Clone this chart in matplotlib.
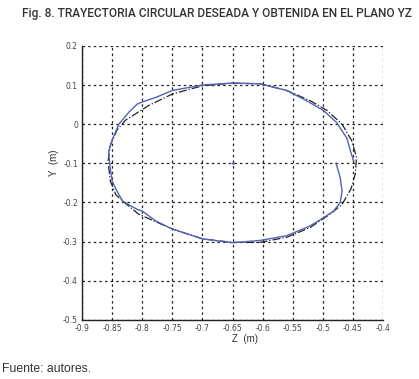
import matplotlib
matplotlib.use("Agg")
import matplotlib.pyplot as plt

# trayectoria deseada (Z, Y) en metros
z_deseada = [-0.650, -0.604, -0.560, -0.521, -0.493, -0.468, -0.452, -0.444, -0.446, -0.453,
             -0.468, -0.488, -0.521, -0.560, -0.604, -0.650, -0.700, -0.750, -0.806, -0.833,
             -0.844, -0.853, -0.857, -0.853, -0.842, -0.828, -0.789, -0.750, -0.700, -0.650]
y_deseada = [0.105, 0.103, 0.086, 0.060, 0.035, 0.000, -0.042, -0.084, -0.127, -0.165,
             -0.205, -0.230, -0.264, -0.289, -0.302, -0.302, -0.293, -0.268, -0.230, -0.196,
             -0.180, -0.146, -0.095, -0.053, -0.015, 0.010, 0.048, 0.077, 0.098, 0.105]

# trayectoria obtenida
z_obtenida = [-0.478, -0.471, -0.468, -0.471, -0.482, -0.499, -0.521, -0.560, -0.604, -0.650,
              -0.700, -0.750, -0.778, -0.800, -0.808, -0.819, -0.833, -0.842, -0.850, -0.854,
              -0.856, -0.850, -0.839, -0.822, -0.808, -0.790, -0.778, -0.750, -0.700, -0.650,
              -0.604, -0.560, -0.527, -0.499, -0.477, -0.460, -0.453, -0.449]
y_obtenida = [-0.100, -0.137, -0.171, -0.200, -0.222, -0.239, -0.260, -0.285, -0.297, -0.303,
              -0.293, -0.268, -0.247, -0.222, -0.218, -0.209, -0.196, -0.171, -0.146, -0.104,
              -0.070, -0.040, 0.000, 0.031, 0.052, 0.062, 0.068, 0.086, 0.100, 0.105,
              0.103, 0.086, 0.060, 0.035, 0.004, -0.036, -0.074, -0.093]

centro = (-0.65, -0.10)

z_ticks = [-0.9, -0.85, -0.8, -0.75, -0.7, -0.65, -0.6, -0.55, -0.5, -0.45, -0.4]
z_labels = ["-0.9", "-0.85", "-0.8", "-0.75", "-0.7", "-0.65", "-0.6", "-0.55", "-0.5", "-0.45", "-0.4"]
y_ticks = [0.2, 0.1, 0, -0.1, -0.2, -0.3, -0.4, -0.5]
y_labels = ["0.2", "0.1", "0", "-0.1", "-0.2", "-0.3", "-0.4", "-0.5"]

fig = plt.figure(figsize=(4.19, 3.79), dpi=100)
ax = fig.add_axes([0.196, 0.156, 0.718, 0.723])

ax.plot(z_deseada, y_deseada, color="#222222", lw=0.9, ls="-.")
ax.plot(z_obtenida, y_obtenida, color="#5560b8", lw=1.0)
ax.plot([centro[0]], [centro[1]], marker=".", ms=2, color="#5560b8")

ax.set_xlim(-0.9, -0.4)
ax.set_ylim(-0.5, 0.2)
ax.set_xticks(z_ticks)
ax.set_xticklabels(z_labels)
ax.set_yticks(y_ticks)
ax.set_yticklabels(y_labels)
ax.tick_params(labelsize=5.5, labelcolor="#444444", length=0, pad=3)
ax.grid(True, color="#222222", ls=(0, (2, 2.5)), lw=0.9)
ax.spines["top"].set_visible(False)
ax.spines["right"].set_visible(False)
for s in ("left", "bottom"):
    ax.spines[s].set_color("#222222")
    ax.spines[s].set_linewidth(1.0)

fig.text(245 / 419, 1 - 339 / 379, "Z  (m)", fontsize=7, color="#333333",
         ha="center", va="center", family="Liberation Sans")
fig.text(54 / 419, 1 - 163 / 379, "Y  (m)", fontsize=7, color="#333333",
         ha="center", va="center", rotation=90, family="Liberation Sans")

fig.text(22 / 419, 1 - 14 / 379, "Fig. 8. TRAYECTORIA CIRCULAR DESEADA Y OBTENIDA EN EL PLANO YZ",
         fontsize=8.55, color="#333333", ha="left", va="center",
         family="Roboto", weight="medium")
fig.text(2 / 419, 1 - 369 / 379, "Fuente: autores.", fontsize=8.8, color="#333333",
         ha="left", va="center", family="Liberation Sans")

fig.savefig("out.png", dpi=100)
